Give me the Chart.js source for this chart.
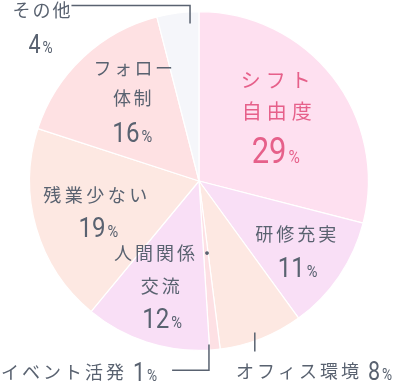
<!DOCTYPE html>
<html>
<head>
<meta charset="utf-8">
<script src="https://cdn.jsdelivr.net/npm/chart.js@4"></script>
<style>
  html, body { margin: 0; padding: 0; background: #fff; }
  #wrap { width: 398px; height: 382px; }
</style>
</head>
<body>
<div id="wrap"><canvas id="pie" width="398" height="382"></canvas></div>
<script>
// Chart data
const categories = ['シフト自由度', '研修充実', 'オフィス環境', 'イベント活発', '人間関係・交流', '残業少ない', 'フォロー体制', 'その他'];
const shares = [29, 11, 8, 1, 12, 19, 16, 4];
const labelLines = [['シフト', '自由度'], ['研修充実'], ['オフィス環境'], ['イベント活発'], ['人間関係・', '交流'], ['残業少ない'], ['フォロー', '体制'], ['その他']];

const sliceColors = ['#fee0f0', '#f9dff6', '#fde8e2', '#fde0e4', '#f9dff6', '#fde8e2', '#fee1e3', '#f5f6fa'];
const TEXT = '#596270';
const PINK = '#e6608a';
const JP = '"Noto Sans CJK JP", "Noto Sans", sans-serif';
const NUM = 'Roboto, "Noto Sans", sans-serif';
const SQUEEZE = 0.86; // digits are condensed in the original

// label placement, offsets from pie centre (radius 170 reference)
const layout = [
  { lines: [[77, -101], [78, -70]], val: [77, -18], fs: 20, ls: 5, big: 36, pct: 18, color: PINK },
  { lines: [[97, 53]], val: [99, 96], fs: 18, ls: 3, big: 28, pct: 17 },
  { outside: true, x: 236, y: 371, big: 25, pct: 16 },
  { outside: true, x: 1, y: 372, big: 25, pct: 16 },
  { lines: [[-34, 72], [-39, 106]], val: [-37, 148], fs: 18, ls: 3, big: 28, pct: 17 },
  { lines: [[-104, 14]], val: [-101, 56], fs: 18, ls: 3.5, big: 28, pct: 17 },
  { lines: [[-66, -113], [-67, -83]], val: [-67, -39], fs: 18, ls: 2.5, big: 28, pct: 17 },
  { lines: [[-158, -171]], val: [-159, -128], fs: 18, ls: 2, big: 25, pct: 16 }
];

function drawValue(ctx, cx, base, value, big, pct, color, align) {
  ctx.letterSpacing = '0px';
  const num = String(value);
  ctx.font = `${big}px ${NUM}`;
  const w1 = ctx.measureText(num).width * SQUEEZE;
  ctx.font = `${pct}px ${NUM}`;
  const w2 = ctx.measureText('%').width * SQUEEZE;
  const gap = 2;
  const total = w1 + gap + w2;
  const x0 = align === 'left' ? cx : cx - total / 2;
  ctx.save();
  ctx.fillStyle = color;
  ctx.textAlign = 'left';
  ctx.textBaseline = 'alphabetic';
  ctx.translate(x0, base);
  ctx.scale(SQUEEZE, 1);
  ctx.font = `${big}px ${NUM}`;
  ctx.fillText(num, 0, 0);
  ctx.font = `${pct}px ${NUM}`;
  ctx.fillText('%', (w1 + gap) / SQUEEZE, 0);
  ctx.restore();
  return total;
}

const labelPlugin = {
  id: 'sliceLabels',
  afterDraw(chart) {
    const ctx = chart.ctx;
    const arc = chart.getDatasetMeta(0).data[0];
    const cx = arc.x, cy = arc.y;
    const k = arc.outerRadius / 170;
    ctx.save();

    // leader lines
    ctx.strokeStyle = TEXT;
    ctx.lineWidth = 1.5;
    ctx.beginPath();
    ctx.moveTo(cx - 128 * k, cy - 176 * k);
    ctx.lineTo(cx - 9 * k, cy - 176 * k);
    ctx.lineTo(cx - 9 * k, cy - 158 * k);
    ctx.moveTo(cx - 27 * k, cy + 190 * k);
    ctx.lineTo(cx + 10 * k, cy + 190 * k);
    ctx.lineTo(cx + 10 * k, cy + 164 * k);
    ctx.moveTo(cx + 56 * k, cy + 152 * k);
    ctx.lineTo(cx + 56 * k, cy + 171 * k);
    ctx.stroke();

    layout.forEach((l, i) => {
      const color = l.color || TEXT;
      if (l.outside) {
        ctx.font = `18px ${JP}`;
        ctx.letterSpacing = '3px';
        ctx.fillStyle = color;
        ctx.textAlign = 'left';
        ctx.textBaseline = 'middle';
        const t = labelLines[i][0];
        ctx.fillText(t, l.x, l.y);
        const w = ctx.measureText(t).width;
        drawValue(ctx, l.x + w + 6, l.y + 9, shares[i], l.big, l.pct, color, 'left');
        return;
      }
      ctx.font = `${l.fs}px ${JP}`;
      ctx.letterSpacing = l.ls + 'px';
      ctx.fillStyle = color;
      ctx.textAlign = 'center';
      ctx.textBaseline = 'middle';
      labelLines[i].forEach((t, j) => {
        const p = l.lines[j];
        ctx.fillText(t, cx + p[0] * k + l.ls / 2, cy + p[1] * k);
      });
      drawValue(ctx, cx + l.val[0] * k, cy + l.val[1] * k, shares[i], l.big, l.pct, color);
    });
    ctx.restore();
  }
};

new Chart(document.getElementById('pie'), {
  type: 'pie',
  data: {
    labels: categories,
    datasets: [{
      data: shares,
      backgroundColor: sliceColors,
      borderColor: '#ffffff',
      borderWidth: 1.2,
      hoverOffset: 0
    }]
  },
  options: {
    responsive: false,
    animation: false,
    events: [],
    layout: { padding: { top: 11, bottom: 31, left: 29, right: 29 } },
    plugins: {
      legend: { display: false },
      tooltip: { enabled: false }
    }
  },
  plugins: [labelPlugin]
});
</script>
</body>
</html>
